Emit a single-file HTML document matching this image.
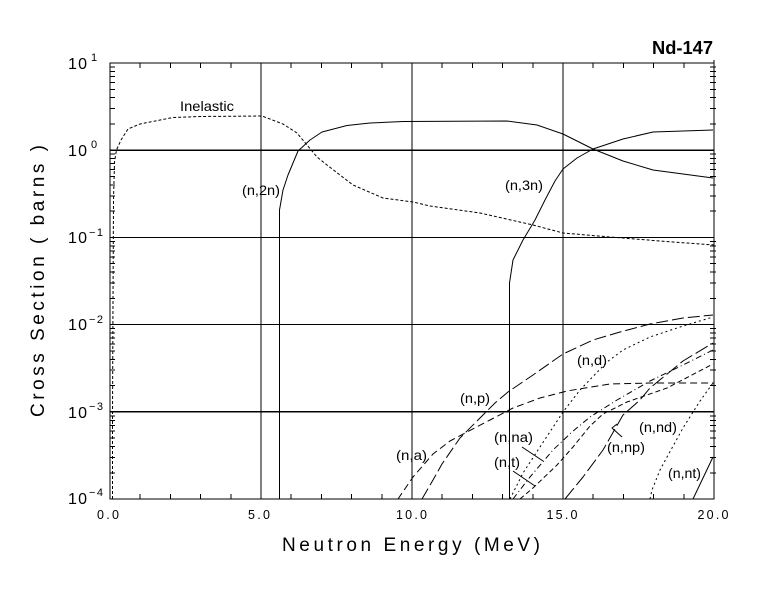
<!DOCTYPE html>
<html>
<head>
<meta charset="utf-8">
<style>
html,body{margin:0;padding:0;background:#fff;}
svg{display:block;}
text{font-family:"Liberation Sans",sans-serif;fill:#000;}
</style>
</head>
<body>
<svg width="780" height="590" viewBox="0 0 780 590" xmlns="http://www.w3.org/2000/svg">
<rect width="780" height="590" fill="#fff"/>

<!-- grid -->
<g stroke="#000" stroke-width="1.2" fill="none" shape-rendering="crispEdges">
  <path d="M110 150.2H714M110 237.4H714M110 324.6H714M110 411.8H714"/>
  <path d="M261 63V499M412 63V499M563 63V499"/>
</g>

<!-- axes box -->
<rect x="110" y="63" width="604" height="436" fill="none" stroke="#000" stroke-width="1.4" shape-rendering="crispEdges"/>

<!-- x ticks top & bottom -->
<g stroke="#000" stroke-width="1" shape-rendering="crispEdges">
  <path d="M140.2 63v5M170.4 63v5M200.6 63v5M230.8 63v5M291.2 63v5M321.4 63v5M351.6 63v5M381.8 63v5M442.2 63v5M472.4 63v5M502.6 63v5M532.8 63v5M593.2 63v5M623.4 63v5M653.6 63v5M683.8 63v5"/>
  <path d="M140.2 499v-5M170.4 499v-5M200.6 499v-5M230.8 499v-5M291.2 499v-5M321.4 499v-5M351.6 499v-5M381.8 499v-5M442.2 499v-5M472.4 499v-5M502.6 499v-5M532.8 499v-5M593.2 499v-5M623.4 499v-5M653.6 499v-5M683.8 499v-5"/>
  <!-- left minor ticks -->
  <path d="M110 472.75h5M110 457.4h5M110 446.5h5M110 438.05h5M110 431.15h5M110 425.3h5M110 420.25h5M110 415.8h5
           M110 385.55h5M110 370.2h5M110 359.3h5M110 350.85h5M110 343.95h5M110 338.1h5M110 333.05h5M110 328.6h5
           M110 298.35h5M110 283h5M110 272.1h5M110 263.65h5M110 256.75h5M110 250.9h5M110 245.85h5M110 241.4h5
           M110 211.15h5M110 195.8h5M110 184.9h5M110 176.45h5M110 169.55h5M110 163.7h5M110 158.65h5M110 154.2h5
           M110 123.95h5M110 108.6h5M110 97.7h5M110 89.25h5M110 82.35h5M110 76.5h5M110 71.45h5M110 67h5"/>
  <!-- right minor ticks -->
  <path d="M710 472.75h6M710 457.4h6M710 446.5h6M710 438.05h6M710 431.15h6M710 425.3h6M710 420.25h6M710 415.8h6
           M710 385.55h6M710 370.2h6M710 359.3h6M710 350.85h6M710 343.95h6M710 338.1h6M710 333.05h6M710 328.6h6
           M710 298.35h6M710 283h6M710 272.1h6M710 263.65h6M710 256.75h6M710 250.9h6M710 245.85h6M710 241.4h6
           M710 211.15h6M710 195.8h6M710 184.9h6M710 176.45h6M710 169.55h6M710 163.7h6M710 158.65h6M710 154.2h6
           M710 123.95h6M710 108.6h6M710 97.7h6M710 89.25h6M710 82.35h6M710 76.5h6M710 71.45h6M710 67h6"/>
  <path d="M714 60v3"/>
</g>

<!-- curves -->
<g fill="none" stroke="#000" stroke-width="1" stroke-linejoin="round">
  <!-- Inelastic -->
  <path stroke-dasharray="3,2" d="M112.5 499 L112.5 420 L113 300 L113.5 200 L114.5 162 L116.5 150 L121 140 L128 129 L140 124 L150 122 L173 117.5 L200 116.5 L262 116 L283 124 L297 133 L317 157 L327 165 L353 185 L383 198 L413 202 L430 206 L480 213 L533 225 L563 233 L610 237 L660 241 L714 245"/>
  <!-- (n,2n) -->
  <path d="M279.5 499 L279.5 210 L283 190 L288 175 L298 151 L310 140 L322 132 L347 125.5 L370 123 L403 121.5 L507 121 L537 125 L563 134 L593 149 L623 161 L653 170 L713 178"/>
  <!-- (n,3n) -->
  <path d="M509.5 499 L509.5 283 L513 260 L523 240 L535 220 L545 200 L555 181 L563 169 L577 158 L593 149 L623 139 L653 132 L713 130"/>
  <!-- (n,p) -->
  <path stroke-dasharray="12,4" d="M422 499 L433 480 L442 464 L460 438 L480 418 L495 403 L508 392 L533 375 L563 354 L593 340 L620 332 L650 324 L683 318 L713 315"/>
  <!-- (n,d) -->
  <path stroke-dasharray="2,3" d="M510 499 L523 473 L540 447 L563 412 L580 390 L607 362 L623 350 L650 337 L680 327 L713 317"/>
  <!-- (n,a) -->
  <path stroke-dasharray="7,4" d="M398 499 L413 477 L433 454 L450 441 L467 432 L490 420 L513 408 L540 398 L567 391 L610 384 L650 383 L714 383"/>
  <!-- (n,na) -->
  <path stroke-dasharray="6,3,1,3" d="M513 499 L530 477 L553 450 L572 432 L590 417 L617 400 L650 381 L683 365 L713 350"/>
  <!-- (n,t) -->
  <path stroke-dasharray="5,3" d="M520 499 L533 488 L557 465 L573 447 L590 426 L603 414 L627 402 L667 388 L713 364"/>
  <!-- (n,np) -->
  <path stroke-dasharray="14,4" d="M565 499 L583 477 L603 450 L623 415 L640 400 L650 388 L683 361 L713 343"/>
  <!-- (n,nd) -->
  <path stroke-dasharray="2,3" d="M650 499 L652 490 L660 470 L667 457 L683 428 L700 401 L713 383"/>
  <!-- (n,nt) -->
  <path d="M693 499 L713 457"/>
  <!-- leaders -->
  <path d="M522 447 L543 461"/>
  <path d="M513 471 L535 486"/>
  <path d="M622 437 L612 428 L617 424"/>
</g>

<!-- curve labels -->
<g font-size="14">
  <text x="180" y="111" textLength="54" lengthAdjust="spacingAndGlyphs">Inelastic</text>
  <text x="242" y="195" textLength="38" lengthAdjust="spacingAndGlyphs">(n,2n)</text>
  <text x="505" y="190" textLength="38" lengthAdjust="spacingAndGlyphs">(n,3n)</text>
  <text x="460" y="403" textLength="30" lengthAdjust="spacingAndGlyphs">(n,p)</text>
  <text x="396" y="460" textLength="31" lengthAdjust="spacingAndGlyphs">(n,a)</text>
  <text x="494" y="442" textLength="39" lengthAdjust="spacingAndGlyphs">(n,na)</text>
  <text x="494" y="467" textLength="26" lengthAdjust="spacingAndGlyphs">(n,t)</text>
  <text x="577" y="365" textLength="30" lengthAdjust="spacingAndGlyphs">(n,d)</text>
  <text x="639" y="432" textLength="38" lengthAdjust="spacingAndGlyphs">(n,nd)</text>
  <text x="607" y="452" textLength="38" lengthAdjust="spacingAndGlyphs">(n,np)</text>
  <text x="668" y="478" textLength="33" lengthAdjust="spacingAndGlyphs">(n,nt)</text>
</g>

<!-- title -->
<text x="652" y="54" font-size="18.5" font-weight="bold" textLength="61" lengthAdjust="spacingAndGlyphs">Nd-147</text>

<!-- x tick labels -->
<g font-size="12.5" text-anchor="middle">
  <text x="108" y="519" textLength="22">0.0</text>
  <text x="259" y="519" textLength="22">5.0</text>
  <text x="411.5" y="519" textLength="31">10.0</text>
  <text x="562" y="519" textLength="31">15.0</text>
  <text x="713" y="519" textLength="31">20.0</text>
</g>

<!-- y tick labels -->
<g font-size="16">
  <text x="68" y="69" textLength="19">10</text>
  <text x="68" y="156" textLength="19">10</text>
  <text x="68" y="243" textLength="19">10</text>
  <text x="68" y="330" textLength="19">10</text>
  <text x="68" y="418" textLength="19">10</text>
  <text x="68" y="504" textLength="19">10</text>
</g>
<g font-size="11">
  <text x="91" y="61">1</text>
  <text x="91" y="148">0</text>
  <text x="89" y="236" textLength="14">−1</text>
  <text x="89" y="323" textLength="14">−2</text>
  <text x="89" y="410" textLength="14">−3</text>
  <text x="89" y="496" textLength="14">−4</text>
</g>

<!-- axis titles -->
<text x="282" y="551" font-size="19" textLength="258">Neutron Energy (MeV)</text>
<text transform="translate(44,417) rotate(-90)" font-size="19" textLength="272">Cross Section ( barns )</text>
</svg>
</body>
</html>
